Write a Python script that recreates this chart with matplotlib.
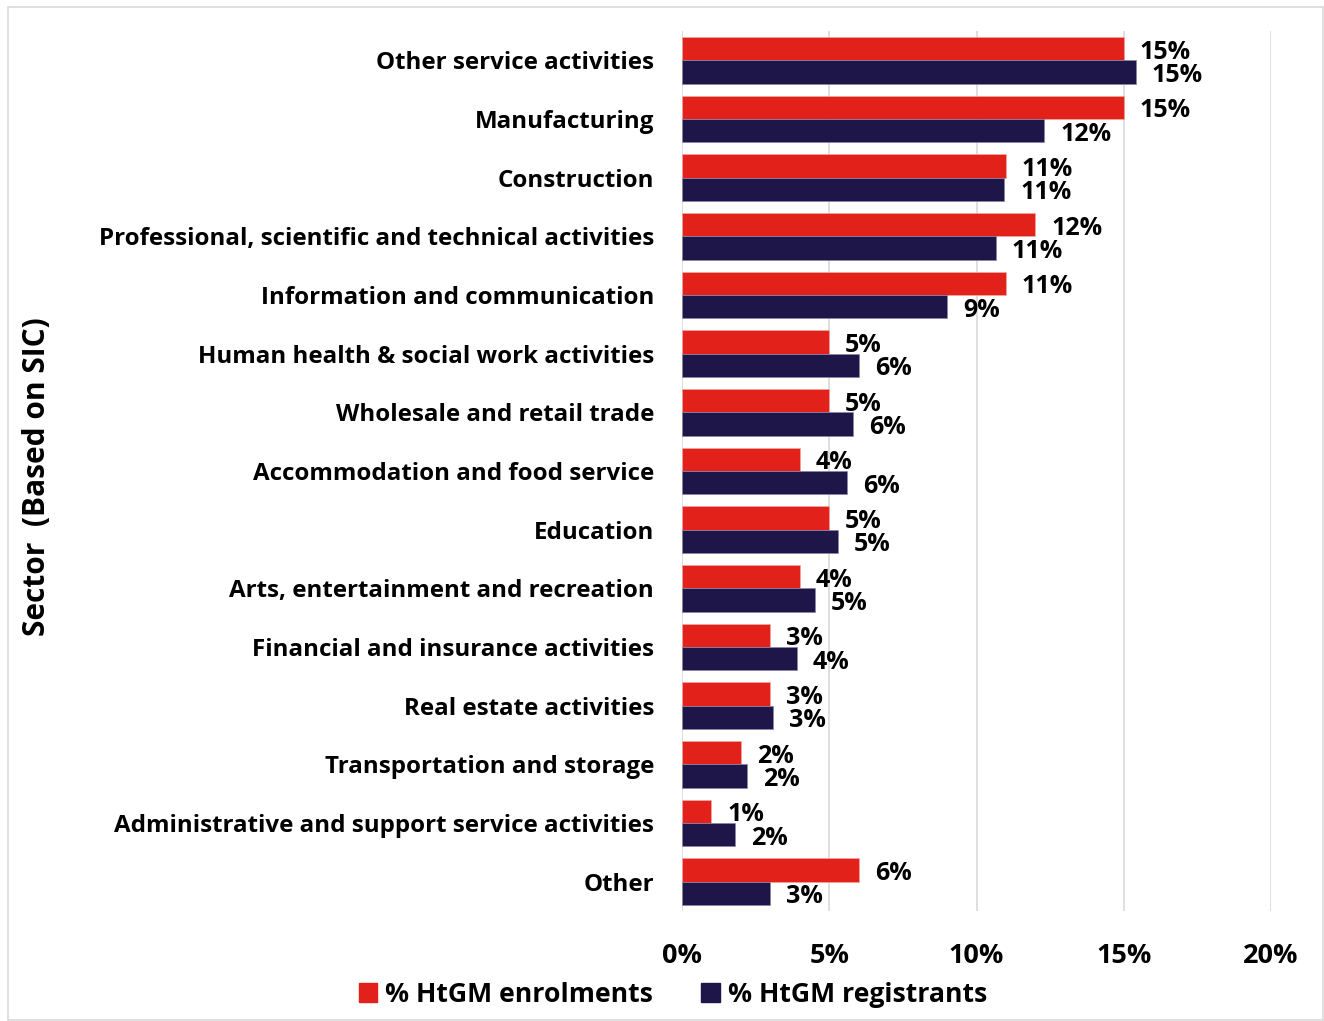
import matplotlib
matplotlib.use("Agg")
import matplotlib.pyplot as plt
from matplotlib.patches import Patch, Rectangle
import numpy as np

plt.rcParams['font.family'] = ['Open Sans', 'DejaVu Sans']
plt.rcParams['font.weight'] = 'bold'

# dados (em %)
setores = [
    "Other service activities",
    "Manufacturing",
    "Construction",
    "Professional, scientific and technical activities",
    "Information and communication",
    "Human health & social work activities",
    "Wholesale and retail trade",
    "Accommodation and food service",
    "Education",
    "Arts, entertainment and recreation",
    "Financial and insurance activities",
    "Real estate activities",
    "Transportation and storage",
    "Administrative and support service activities",
    "Other",
]
enrolments = [15.0, 15.0, 11.0, 12.0, 11.0, 5.0, 5.0, 4.0, 5.0, 4.0, 3.0, 3.0, 2.0, 1.0, 6.0]
registrants = [15.4, 12.3, 10.95, 10.65, 9.0, 6.0, 5.8, 5.6, 5.3, 4.52, 3.9, 3.1, 2.2, 1.8, 3.0]
xticks = [0, 5, 10, 15, 20]

cor_vermelho = "#E2211A"
cor_azul = "#1E1548"
W, H = 1324, 1021

fig = plt.figure(figsize=(W / 100, H / 100), dpi=100)
ax = fig.add_axes([682 / W, 1 - 911 / H, (1271 - 682) / W, (911 - 31) / H])

y = np.arange(len(setores))
altura = 0.4
ax.barh(y - altura / 2, enrolments, height=altura, color=cor_vermelho,
        edgecolor="#F4A6A0", linewidth=0.5, zorder=3)
ax.barh(y + altura / 2, registrants, height=altura, color=cor_azul,
        edgecolor="#8C86A8", linewidth=0.5, zorder=3)

# rótulos de valor
for i in range(len(setores)):
    ax.annotate(f"{round(enrolments[i])}%", (enrolments[i], y[i] - altura / 2),
                xytext=(11.5, -2.5), textcoords="offset points",
                ha="left", va="center", fontsize=18, fontweight="bold")
    ax.annotate(f"{round(registrants[i])}%", (registrants[i], y[i] + altura / 2),
                xytext=(11.5, -2.5), textcoords="offset points",
                ha="left", va="center", fontsize=18, fontweight="bold")

ax.set_xlim(0, 20)
ax.set_ylim(len(setores) - 0.5, -0.5)
ax.set_xticks(xticks)
ax.set_xticklabels([f"{t}%" for t in xticks], fontsize=19.5, fontweight="bold")
ax.set_yticks(y)
ax.set_yticklabels(setores, fontsize=17.4, fontweight="bold")
ax.tick_params(axis="x", length=0, pad=23)
ax.tick_params(axis="y", length=0, pad=20)
ax.grid(axis="x", color="#D9D9D9", linewidth=1.2, zorder=0)
for s in ax.spines.values():
    s.set_visible(False)

fig.text(37 / W, 1 - 477 / H, "Sector  (Based on SIC)", rotation=90,
         ha="center", va="center", fontsize=21.5, fontweight="bold")

handles = [Patch(color=cor_vermelho, label="% HtGM enrolments"),
           Patch(color=cor_azul, label="% HtGM registrants")]
fig.legend(handles=handles, loc="center", bbox_to_anchor=(673 / W, 1 - 995 / H),
           ncol=2, frameon=False, prop={"size": 19.2, "weight": "bold"},
           handlelength=0.7, handleheight=0.7, handletextpad=0.3,
           columnspacing=1.8)

# moldura cinza em volta da figura
fig.patches.append(Rectangle((8 / W, 1 / H), (1323 - 8) / W, (1013) / H,
                             transform=fig.transFigure, fill=False,
                             edgecolor="#D9D9D9", linewidth=1.2))

fig.savefig("out.png", dpi=100)
